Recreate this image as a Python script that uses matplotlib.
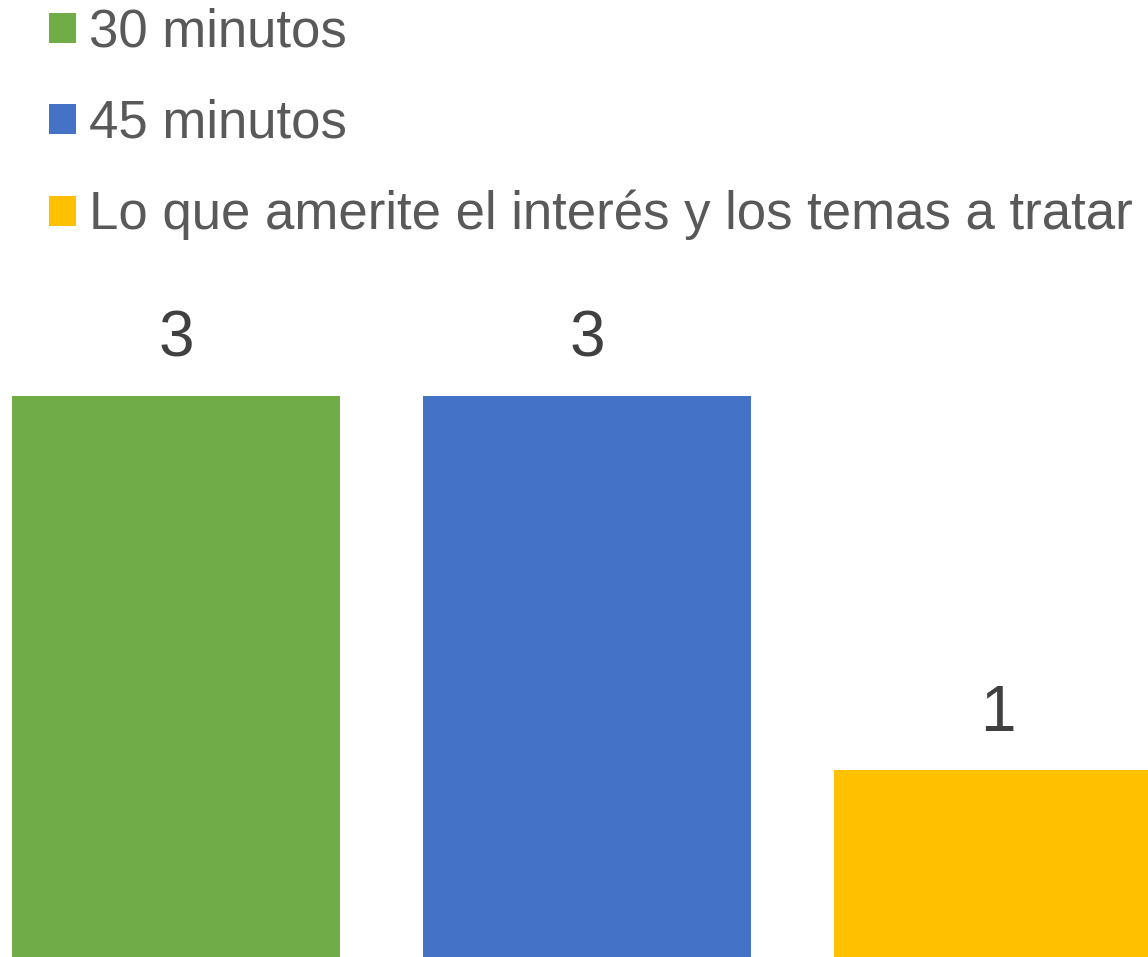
import matplotlib.pyplot as plt

categories = ["30 minutos", "45 minutos", "Lo que amerite el interés y los temas a tratar"]
values = [3, 3, 1]
colors = ["#70AD47", "#4472C4", "#FFC000"]

plt.rcParams["font.family"] = ["Liberation Sans", "DejaVu Sans"]

fig = plt.figure(figsize=(11.48, 9.57), dpi=100)
ax = fig.add_axes([0, 0, 1, 1])

x = list(range(len(categories)))
bars = ax.bar(x, values, width=0.8, color=colors, label=categories)

for xi, v in zip(x, values):
    ax.annotate(str(v), (xi, v), xytext=(0, 19), textcoords="offset points",
                ha="center", va="bottom", fontsize=46, color="#404040")

ax.set_xlim(-0.428, 2.365)
ax.set_ylim(0, 5.118)
ax.axis("off")

handles = [b for b in bars]
leg = ax.legend(handles, categories, loc="upper left", bbox_to_anchor=(0.043, 0.992),
                frameon=False, fontsize=38, handlelength=0.5, handleheight=0.5,
                handletextpad=0.25, labelspacing=0.78, borderpad=0, borderaxespad=0)
for t in leg.get_texts():
    t.set_color("#595959")

fig.savefig("out.png", dpi=100)
